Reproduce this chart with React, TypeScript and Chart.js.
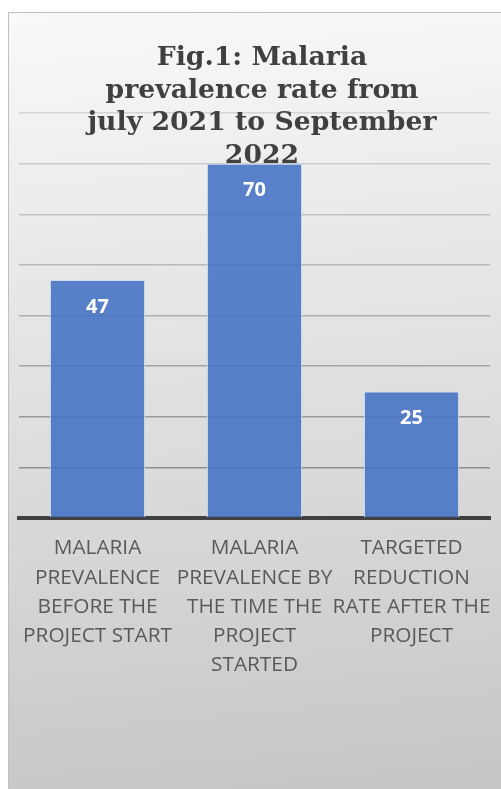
import React, { useEffect, useRef } from "react";
import { Chart, registerables } from "chart.js";

Chart.register(...registerables);

const categories: string[][] = [
  ["MALARIA", "PREVALENCE", "BEFORE THE", "PROJECT START"],
  ["MALARIA", "PREVALENCE BY", "THE TIME THE", "PROJECT", "STARTED"],
  ["TARGETED", "REDUCTION", "RATE AFTER THE", "PROJECT"],
];
const values: number[] = [47, 70, 25];
const yMin = 0;
const yMax = 80;
const yStep = 10;
const titleLines: string[] = [
  "Fig.1: Malaria",
  "prevalence rate from",
  "july 2021 to September",
  "2022",
];

const W = 501;
const H = 789;

export default function App() {
  const ref = useRef<HTMLCanvasElement | null>(null);

  useEffect(() => {
    const canvas = ref.current;
    if (!canvas) return;

    const titlePlugin = {
      id: "titleOverlay",
      afterDatasetsDraw(chart: any) {
        const c = chart.ctx;
        c.save();
        c.fillStyle = "#404040";
        c.font = "bold 26.7px 'DejaVu Serif'";
        c.textAlign = "center";
        c.textBaseline = "alphabetic";
        const cx = 262;
        const firstBase = 65;
        const lh = 32.7;
        titleLines.forEach((t, i) => c.fillText(t, cx, firstBase + i * lh));
        c.restore();
      },
    };

    const labelPlugin = {
      id: "barLabels",
      afterDatasetsDraw(chart: any) {
        const c = chart.ctx;
        const meta = chart.getDatasetMeta(0);
        c.save();
        c.fillStyle = "#ffffff";
        c.font = "bold 20px 'Open Sans'";
        c.textAlign = "center";
        c.textBaseline = "middle";
        meta.data.forEach((el: any, i: number) => {
          c.fillText(String(values[i]), el.x, el.y + 27);
        });
        c.restore();
      },
    };

    const chart = new Chart(canvas, {
      type: "bar",
      data: {
        labels: categories,
        datasets: [
          {
            data: values,
            backgroundColor: "rgba(68,114,196,0.88)",
            borderColor: "rgba(205,218,240,0.9)",
            borderWidth: 1,
            categoryPercentage: 1,
            barPercentage: 0.606,
          },
        ],
      },
      options: {
        animation: false,
        responsive: false,
        devicePixelRatio: 1,
        layout: { padding: { left: 19, right: 11, top: 113, bottom: 0 } },
        plugins: {
          legend: { display: false },
          title: { display: false },
          tooltip: { enabled: false },
        },
        scales: {
          x: {
            grid: { display: false, drawTicks: false },
            border: { display: true, color: "#404040", width: 4 },
            ticks: {
              color: "#595959",
              font: { family: "'Open Sans'", size: 20.8, lineHeight: 1.4 },
              padding: 16,
              maxRotation: 0,
              minRotation: 0,
              autoSkip: false,
            },
            afterFit: (scale: any) => {
              scale.height = 271;
              scale.paddingLeft = 0;
              scale.paddingRight = 0;
            },
          },
          y: {
            min: yMin,
            max: yMax,
            ticks: { display: false, stepSize: yStep },
            border: { display: false },
            grid: {
              drawTicks: false,
              lineWidth: 1.5,
              color: (ctx: any) => {
                const v = ctx.tick ? ctx.tick.value : 0;
                if (v <= yMin) return "rgba(0,0,0,0)";
                const g = Math.round(133 + (v / yMax) * 80);
                return `rgb(${g},${g},${g})`;
              },
            },
          },
        },
      },
      plugins: [titlePlugin, labelPlugin],
    });

    return () => chart.destroy();
  }, []);

  return (
    <div style={{ position: "fixed", left: 0, top: 0, width: W, height: H, overflow: "hidden", background: "#ffffff" }}>
      <div
        style={{
          position: "absolute",
          left: 8,
          top: 12,
          width: 520,
          height: 800,
          border: "1.5px solid #c0c0c0",
          background: "linear-gradient(175deg, #f9f9f9 0%, #e6e6e6 35%, #d8d8d8 62%, #c4c4c4 100%)",
        }}
      />
      <canvas ref={ref} width={W} height={H} style={{ position: "absolute", left: 0, top: 0, width: W, height: H }} />
    </div>
  );
}
